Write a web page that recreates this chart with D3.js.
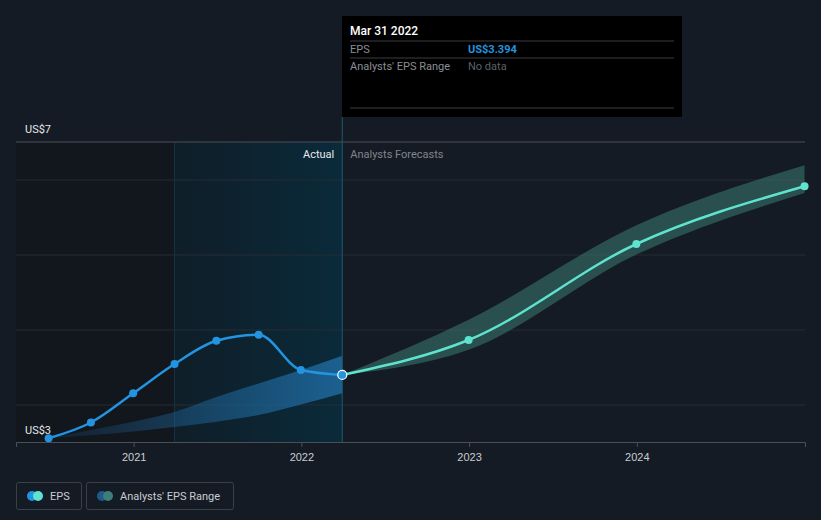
<!DOCTYPE html>
<html>
<head>
<meta charset="utf-8">
<script src="https://cdn.jsdelivr.net/npm/d3@7"></script>
<style>
  html, body { margin: 0; padding: 0; background: #151b24; }
  svg { display: block; font-family: Roboto, "Noto Sans", sans-serif; }
</style>
</head>
<body>
<div id="wrapper"></div>
<script>
// quarterly EPS, actual (US$)
const pastDates = ["2020-06-30", "2020-09-30", "2020-12-31", "2021-03-31", "2021-06-30", "2021-09-30", "2021-12-31", "2022-03-31"]
const pastEps = [2.55, 2.76, 3.15, 3.54, 3.85, 3.93, 3.46, 3.394]
const pastRangeLow = [2.55, 2.59, 2.64, 2.70, 2.77, 2.86, 3.00, 3.15]
const pastRangeHigh = [2.55, 2.66, 2.77, 2.90, 3.10, 3.28, 3.46, 3.65]

// analysts forecasts
const forecastDates = ["2022-03-31", "2022-12-31", "2023-12-31", "2024-12-31"]
const forecastEps = [3.394, 3.86, 5.14, 5.91]
const forecastLow = [3.394, 3.73, 5.00, 5.82]
const forecastHigh = [3.394, 4.13, 5.39, 6.19]

const yTicks = [3, 4, 5, 6]
const xTicks = ["2021-01-01", "2022-01-01", "2023-01-01", "2024-01-01"]
const yLabels = ["US$7", "US$3"]

const parse = d3.timeParse("%Y-%m-%d")

function drawChart () {
    const dimensions = {
        width: 821,
        height: 520,
        margin: { top: 142, right: 16, bottom: 78, left: 16 },
    }
    dimensions.boundedWidth = dimensions.width - dimensions.margin.left - dimensions.margin.right
    dimensions.boundedHeight = dimensions.height - dimensions.margin.top - dimensions.margin.bottom

    const svg = d3.select("#wrapper")
        .append("svg")
        .attr("width", dimensions.width)
        .attr("height", dimensions.height)

    const defs = svg.append("defs")

    const bounds = svg.append("g")
        .attr("transform", `translate(${dimensions.margin.left},${dimensions.margin.top})`)

    const xScale = d3.scaleTime()
        .domain([parse("2020-04-20"), parse("2025-01-01")])
        .range([0, dimensions.boundedWidth])
    const yScale = d3.scaleLinear()
        .domain([2.5, 6.5])
        .range([dimensions.boundedHeight, 0])

    const past = pastDates.map((d, i) => ({ date: parse(d), eps: pastEps[i], lo: pastRangeLow[i], hi: pastRangeHigh[i] }))
    const future = forecastDates.map((d, i) => ({ date: parse(d), eps: forecastEps[i], lo: forecastLow[i], hi: forecastHigh[i] }))

    const nowX = xScale(parse("2022-03-31"))
    const highlightX = xScale(parse("2021-03-31"))

    // dark left zone
    bounds.append("rect")
        .attr("x", 0).attr("y", 0)
        .attr("width", highlightX).attr("height", dimensions.boundedHeight)
        .attr("fill", "#12161d")

    // highlighted last year of actuals
    const hl = defs.append("linearGradient").attr("id", "hl")
    hl.append("stop").attr("offset", "0%").attr("stop-color", "#0f1e28")
    hl.append("stop").attr("offset", "100%").attr("stop-color", "#0a2a3a")
    bounds.append("rect")
        .attr("x", highlightX).attr("y", 0)
        .attr("width", nowX - highlightX).attr("height", dimensions.boundedHeight)
        .attr("fill", "url(#hl)")
    bounds.append("line")
        .attr("x1", highlightX).attr("x2", highlightX)
        .attr("y1", 0).attr("y2", dimensions.boundedHeight)
        .attr("stroke", "#173444").attr("stroke-width", 1)

    // grid
    const yAxisGenerator = d3.axisLeft(yScale)
        .tickValues(yTicks)
        .tickSize(-dimensions.boundedWidth)
        .tickFormat("")
    const yAxis = bounds.append("g").call(yAxisGenerator)
    yAxis.select(".domain").remove()
    yAxis.selectAll(".tick line").attr("stroke", "#262c35").attr("stroke-width", 1.2)

    bounds.append("line")
        .attr("x1", 0).attr("x2", dimensions.boundedWidth)
        .attr("y1", 0).attr("y2", 0)
        .attr("stroke", "#4a4f58").attr("stroke-width", 1)

    // x axis
    const xAxisGenerator = d3.axisBottom(xScale)
        .tickValues(xTicks.map(parse))
        .tickSize(5)
        .tickPadding(6)
        .tickFormat(d3.timeFormat("%Y"))
    const xAxis = bounds.append("g")
        .attr("transform", `translate(0,${dimensions.boundedHeight})`)
        .call(xAxisGenerator)
    xAxis.select(".domain").attr("stroke", "#4a4f58")
    xAxis.selectAll(".tick line").attr("stroke", "#4a4f58")
    xAxis.selectAll(".tick text").attr("fill", "#c9ccd1").style("font-size", "11px")

    // analysts range bands
    const area = d3.area()
        .x(d => xScale(d.date))
        .y0(d => yScale(d.lo))
        .y1(d => yScale(d.hi))
        .curve(d3.curveMonotoneX)

    const pb = defs.append("linearGradient").attr("id", "pastBand")
    pb.append("stop").attr("offset", "0%").attr("stop-color", "#1d5e8f").attr("stop-opacity", 0.15)
    pb.append("stop").attr("offset", "100%").attr("stop-color", "#1f6aa0").attr("stop-opacity", 0.85)
    bounds.append("path")
        .datum(past)
        .attr("d", area)
        .attr("fill", "url(#pastBand)")

    bounds.append("path")
        .datum(future)
        .attr("d", area)
        .attr("fill", "#3c7a72")
        .attr("opacity", 0.55)

    // now line
    bounds.append("line")
        .attr("x1", nowX).attr("x2", nowX)
        .attr("y1", -25).attr("y2", dimensions.boundedHeight)
        .attr("stroke", "#1d5a72").attr("stroke-width", 1)

    // lines
    const line = d3.line()
        .x(d => xScale(d.date))
        .y(d => yScale(d.eps))
        .curve(d3.curveMonotoneX)

    bounds.append("path")
        .datum(future)
        .attr("d", line)
        .attr("fill", "none")
        .attr("stroke", "#5fe3cf")
        .attr("stroke-width", 2.5)

    bounds.append("path")
        .datum(past)
        .attr("d", line)
        .attr("fill", "none")
        .attr("stroke", "#2394df")
        .attr("stroke-width", 2.5)

    bounds.selectAll(".fdot")
        .data(future.slice(1))
        .join("circle")
        .attr("cx", d => xScale(d.date))
        .attr("cy", d => yScale(d.eps))
        .attr("r", 4)
        .attr("fill", "#5fe3cf")

    bounds.selectAll(".pdot")
        .data(past.slice(0, -1))
        .join("circle")
        .attr("cx", d => xScale(d.date))
        .attr("cy", d => yScale(d.eps))
        .attr("r", 4)
        .attr("fill", "#2394df")

    const last = past[past.length - 1]
    bounds.append("circle")
        .attr("cx", xScale(last.date))
        .attr("cy", yScale(last.eps))
        .attr("r", 4.5)
        .attr("fill", "#2394df")
        .attr("stroke", "#ffffff")
        .attr("stroke-width", 1.2)

    // y labels
    bounds.append("text")
        .attr("x", 9).attr("y", -9)
        .attr("fill", "#e6e8eb")
        .style("font-size", "11px")
        .text(yLabels[0])
    bounds.append("text")
        .attr("x", 9).attr("y", dimensions.boundedHeight - 8)
        .attr("fill", "#e6e8eb")
        .style("font-size", "11px")
        .text(yLabels[1])

    bounds.append("text")
        .attr("x", nowX - 8).attr("y", 16)
        .attr("text-anchor", "end")
        .attr("fill", "#e6e8eb")
        .style("font-size", "11px")
        .text("Actual")
    bounds.append("text")
        .attr("x", nowX + 8).attr("y", 16)
        .attr("fill", "#80858c")
        .style("font-size", "11px")
        .text("Analysts Forecasts")

    // tooltip
    const tip = svg.append("g").attr("transform", "translate(342,16)")
    tip.append("rect")
        .attr("width", 340).attr("height", 101)
        .attr("fill", "#000000")
    tip.append("text")
        .attr("x", 8).attr("y", 19)
        .attr("fill", "#ffffff")
        .style("font-size", "12px")
        .style("font-weight", 500)
        .text("Mar 31 2022")
    ;[25, 42, 92].forEach(y => {
        tip.append("line")
            .attr("x1", 8).attr("x2", 332)
            .attr("y1", y).attr("y2", y)
            .attr("stroke", "#3a3d42").attr("stroke-width", 1)
    })
    tip.append("text")
        .attr("x", 8).attr("y", 37)
        .attr("fill", "#8a8e94").style("font-size", "11px")
        .text("EPS")
    tip.append("text")
        .attr("x", 126).attr("y", 37)
        .attr("fill", "#2394df").style("font-size", "11px").style("font-weight", 700)
        .text("US$" + last.eps.toFixed(3))
    tip.append("text")
        .attr("x", 8).attr("y", 54)
        .attr("fill", "#8a8e94").style("font-size", "11px")
        .text("Analysts' EPS Range")
    tip.append("text")
        .attr("x", 126).attr("y", 54)
        .attr("fill", "#5d6167").style("font-size", "11px")
        .text("No data")

    // legend
    const legend = svg.append("g").attr("transform", "translate(16,482)")
    const items = [
        { label: "EPS", w: 65, c1: "#2394df", c2: "#5fe3cf" },
        { label: "Analysts' EPS Range", w: 147, c1: "#1f5a88", c2: "#3c7f78" },
    ]
    let lx = 0
    items.forEach(it => {
        const g = legend.append("g").attr("transform", `translate(${lx},0)`)
        g.append("rect")
            .attr("x", 0.5).attr("y", 0.5)
            .attr("width", it.w).attr("height", 27)
            .attr("rx", 2)
            .attr("fill", "none")
            .attr("stroke", "#3a3f48")
        g.append("circle").attr("cx", 16).attr("cy", 14).attr("r", 5).attr("fill", it.c1)
        g.append("circle").attr("cx", 22).attr("cy", 14).attr("r", 5).attr("fill", it.c2)
        g.append("text")
            .attr("x", 34).attr("y", 18)
            .attr("fill", "#c9ccd1")
            .style("font-size", "11px")
            .text(it.label)
        lx += it.w + 5
    })
}

drawChart()
</script>
</body>
</html>
